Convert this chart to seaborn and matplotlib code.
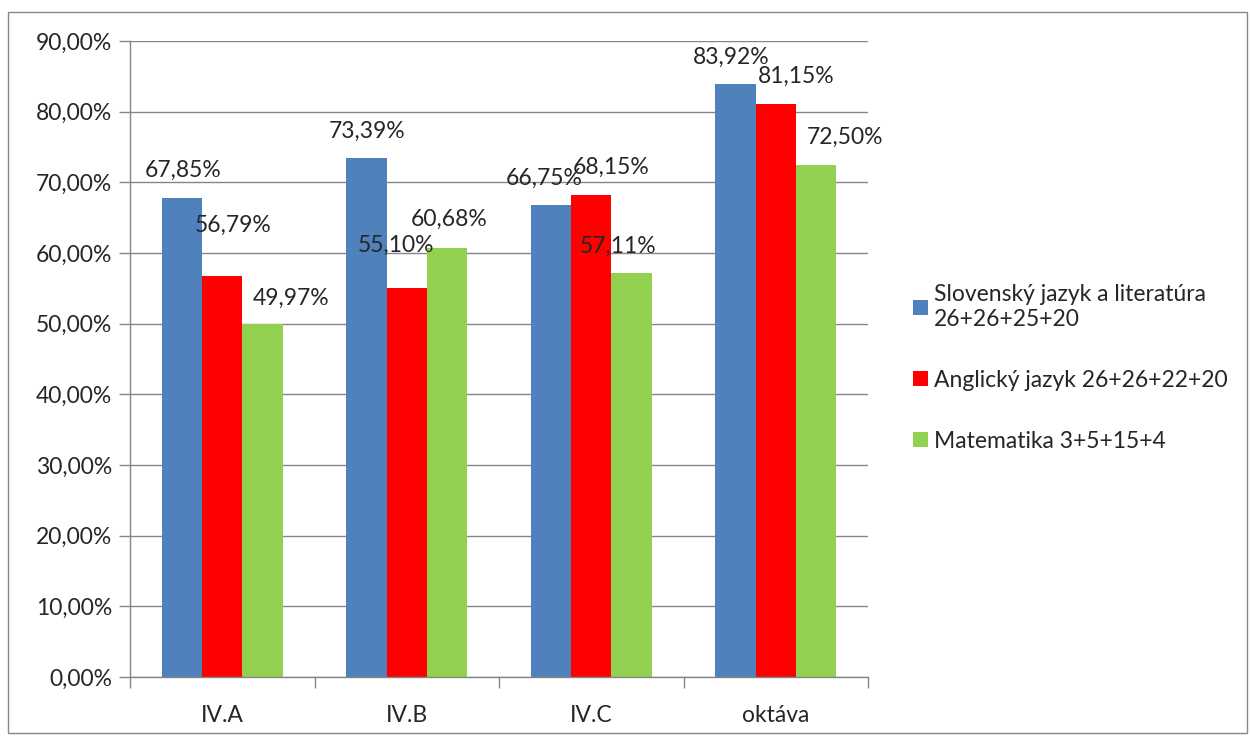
import pandas as pd
import matplotlib.pyplot as plt
import matplotlib as mpl
import seaborn as sns
from matplotlib.ticker import FuncFormatter, FixedLocator

# --------------------------------------------------------------
# Data
# --------------------------------------------------------------

classes = ["IV.A", "IV.B", "IV.C", "oktáva"]
subjects = [
  "Slovenský jazyk a literatúra\n26+26+25+20",
  "Anglický jazyk 26+26+22+20",
  "Matematika 3+5+15+4",
]
slovak = [67.85, 73.39, 66.75, 83.92]
english = [56.79, 55.10, 68.15, 81.15]
maths = [49.97, 60.68, 57.11, 72.50]
colors = ["#4F81BD", "#FF0000", "#92D050"]

# label nudges (pixels), [subject][class], to sit where the original has them
label_dx = [[1, 1, -7, -4], [11, -11, 20, 20], [29, 2, -13, 29]]
label_dy = [[27, 27, 27, 27], [50, 42, 28, 27], [26, 29, 27, 27]]

df = pd.DataFrame({
  "class": classes * 3,
  "subject": [subjects[0]] * 4 + [subjects[1]] * 4 + [subjects[2]] * 4,
  "value": slovak + english + maths,
})

# --------------------------------------------------------------
# Plot
# --------------------------------------------------------------

sns.set_theme(style="white")
plt.rcParams["font.family"] = ["Lato", "DejaVu Sans"]

fig = plt.figure(figsize=(12.5, 7.36), dpi=100)
ax = fig.add_axes([0.104, 0.0802, 0.5904, 0.8641])

sns.barplot(
  data=df, x="class", y="value", hue="subject",
  palette=colors, width=0.655, gap=0, saturation=1,
  edgecolor="none", ax=ax,
)

ax.set_ylim(0, 90)
ax.set_xlim(-0.5, 3.5)
ax.set_yticks(range(0, 91, 10))
ax.yaxis.set_major_formatter(FuncFormatter(lambda v, p: f"{v:.2f}%".replace(".", ",")))
ax.yaxis.grid(True, color="#868686", linewidth=1)
ax.set_axisbelow(True)
ax.tick_params(axis="y", length=8, width=1, color="#868686", labelsize=16.5, left=True, pad=5)
ax.tick_params(axis="x", which="major", length=0, labelsize=16.5, pad=20)
ax.xaxis.set_minor_locator(FixedLocator([-0.5, 0.5, 1.5, 2.5, 3.5]))
ax.tick_params(axis="x", which="minor", length=8, width=1, color="#868686", bottom=True)
ax.set_xlabel("")
ax.set_ylabel("")
for s in ["top", "right"]:
  ax.spines[s].set_visible(False)
for s in ["left", "bottom"]:
  ax.spines[s].set_color("#868686")
  ax.spines[s].set_linewidth(1)

# value labels
for i, cont in enumerate(ax.containers):
  for j, bar in enumerate(cont):
    h = bar.get_height()
    ax.annotate(
      f"{h:.2f}%".replace(".", ","),
      (bar.get_x() + bar.get_width() / 2, h),
      xytext=(label_dx[i][j], label_dy[i][j]), textcoords="offset pixels",
      ha="center", va="center", fontsize=16.5,
    )

# legend
handles, labels = ax.get_legend_handles_labels()
ax.legend_.remove()
leg = fig.legend(
  handles, labels, loc="center left", bbox_to_anchor=(0.714, 0.5),
  frameon=False, fontsize=16.5, handlelength=0.65, handleheight=0.65,
  handletextpad=0.25, labelspacing=1.75,
)

# chart border
fig.patches.append(mpl.patches.Rectangle(
  (8 / 1250, 3 / 736), 1239 / 1250, 721 / 736, transform=fig.transFigure,
  fill=False, edgecolor="#868686", linewidth=1,
))

plt.savefig("out.png", dpi=100)
